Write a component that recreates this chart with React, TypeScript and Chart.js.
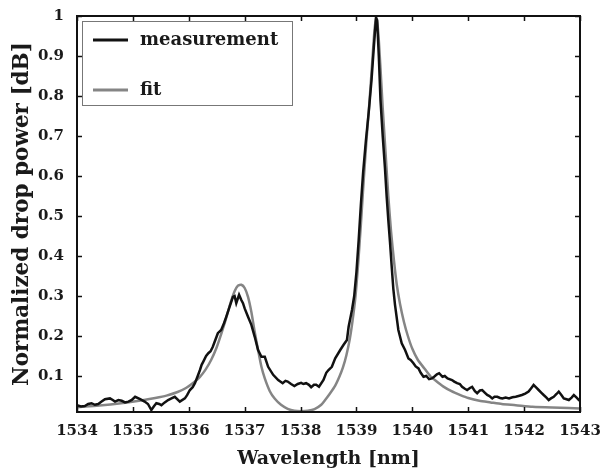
import React, { useEffect, useRef } from "react";
import { Chart, registerables } from "chart.js";

Chart.register(...registerables);

const measWl = [
  1534.0, 1534.07, 1534.14, 1534.2, 1534.26, 1534.32, 1534.38, 1534.44, 1534.5, 1534.59,
  1534.64, 1534.68, 1534.74, 1534.8, 1534.86, 1534.92, 1534.98, 1535.04, 1535.13, 1535.21,
  1535.27, 1535.33, 1535.38, 1535.42, 1535.47, 1535.51, 1535.57, 1535.63, 1535.69, 1535.75,
  1535.84, 1535.93, 1535.97, 1536.02, 1536.07, 1536.11, 1536.16, 1536.2, 1536.23, 1536.26,
  1536.31, 1536.35, 1536.39, 1536.43, 1536.48, 1536.52, 1536.58, 1536.63, 1536.67, 1536.73,
  1536.79, 1536.82, 1536.85, 1536.9, 1536.94, 1536.97, 1537.0, 1537.06, 1537.12, 1537.18,
  1537.24, 1537.3, 1537.36, 1537.42, 1537.51, 1537.6, 1537.68, 1537.73, 1537.77, 1537.83,
  1537.89, 1537.95, 1538.01, 1538.05, 1538.1, 1538.15, 1538.19, 1538.24, 1538.28, 1538.33,
  1538.41, 1538.46, 1538.5, 1538.56, 1538.62, 1538.71, 1538.77, 1538.83, 1538.86, 1538.92,
  1538.96, 1539.0, 1539.04, 1539.08, 1539.12, 1539.17, 1539.22, 1539.27, 1539.31, 1539.35,
  1539.37, 1539.4, 1539.43, 1539.47, 1539.51, 1539.54, 1539.57, 1539.6, 1539.63, 1539.66,
  1539.69, 1539.75, 1539.81, 1539.87, 1539.93, 1539.97, 1540.02, 1540.06, 1540.11, 1540.15,
  1540.2, 1540.25, 1540.3, 1540.35, 1540.39, 1540.44, 1540.48, 1540.54, 1540.58, 1540.63,
  1540.71, 1540.75, 1540.8, 1540.85, 1540.89, 1540.94, 1540.98, 1541.03, 1541.07, 1541.12,
  1541.16, 1541.21, 1541.25, 1541.3, 1541.34, 1541.38, 1541.43, 1541.47, 1541.52, 1541.57,
  1541.61, 1541.67, 1541.73, 1541.79, 1541.85, 1541.9, 1541.96, 1542.02, 1542.08, 1542.13,
  1542.17, 1542.21, 1542.26, 1542.31, 1542.35, 1542.4, 1542.44, 1542.48, 1542.53, 1542.58,
  1542.62, 1542.67, 1542.71, 1542.76, 1542.8, 1542.85, 1542.89, 1542.94, 1542.98, 1543.0,
];

const measVal = [
  0.027, 0.024, 0.025, 0.03, 0.032, 0.028, 0.03, 0.036, 0.042, 0.044,
  0.04, 0.036, 0.04, 0.038, 0.034, 0.036, 0.04, 0.048, 0.042, 0.036,
  0.03, 0.015, 0.025, 0.032, 0.03, 0.027, 0.034, 0.04, 0.044, 0.048,
  0.036, 0.044, 0.052, 0.065, 0.072, 0.082, 0.1, 0.115, 0.128, 0.136,
  0.15, 0.157, 0.162, 0.173, 0.192, 0.207, 0.215, 0.232, 0.248, 0.273,
  0.298, 0.3, 0.282, 0.303, 0.29, 0.282, 0.269, 0.248, 0.228, 0.198,
  0.165, 0.148, 0.148, 0.123, 0.103, 0.09, 0.082, 0.088, 0.086, 0.08,
  0.075, 0.08, 0.083, 0.08, 0.082, 0.078, 0.072, 0.078, 0.078, 0.073,
  0.09, 0.108, 0.115, 0.123, 0.144, 0.165, 0.178, 0.19, 0.223, 0.265,
  0.3, 0.36, 0.44, 0.53, 0.61, 0.69, 0.76, 0.84, 0.92, 0.995,
  0.99, 0.9, 0.79, 0.7, 0.62, 0.55, 0.49, 0.435, 0.375, 0.318,
  0.278, 0.215, 0.182, 0.165, 0.144, 0.14, 0.132, 0.124, 0.119, 0.108,
  0.098, 0.1, 0.092, 0.094, 0.098, 0.104, 0.107, 0.098, 0.1, 0.094,
  0.09, 0.086, 0.082, 0.08, 0.073, 0.068, 0.065, 0.07, 0.073, 0.062,
  0.057, 0.064, 0.065, 0.058, 0.0525, 0.05, 0.044, 0.048, 0.048, 0.045,
  0.044, 0.046, 0.044, 0.047, 0.048, 0.05, 0.0525, 0.056, 0.061, 0.07,
  0.0775, 0.072, 0.065, 0.058, 0.0525, 0.046, 0.04, 0.044, 0.048, 0.055,
  0.061, 0.052, 0.044, 0.042, 0.04, 0.046, 0.0525, 0.046, 0.04, 0.041,
];

const fitWl = [
  1534.0, 1534.3, 1534.6, 1534.9, 1535.2, 1535.4, 1535.6, 1535.8, 1535.95, 1536.1,
  1536.2, 1536.3, 1536.4, 1536.5, 1536.58, 1536.66, 1536.74, 1536.82, 1536.88, 1536.94,
  1537.0, 1537.06, 1537.12, 1537.18, 1537.24, 1537.3, 1537.36, 1537.45, 1537.54, 1537.65,
  1537.77, 1537.89, 1538.01, 1538.13, 1538.25, 1538.37, 1538.44, 1538.52, 1538.62, 1538.7,
  1538.76, 1538.82, 1538.88, 1538.93, 1538.98, 1539.03, 1539.08, 1539.13, 1539.18, 1539.23,
  1539.28, 1539.32, 1539.355, 1539.39, 1539.43, 1539.47, 1539.52, 1539.57, 1539.62, 1539.67,
  1539.72, 1539.78, 1539.85, 1539.92, 1540.0, 1540.1, 1540.22, 1540.32, 1540.42, 1540.55,
  1540.7, 1540.85, 1541.0, 1541.2, 1541.4, 1541.6, 1541.85, 1542.15, 1542.5, 1542.8, 1543.0,
];

const fitVal = [
  0.022, 0.025, 0.029, 0.034, 0.04, 0.045, 0.051, 0.06, 0.07, 0.085,
  0.098, 0.116, 0.14, 0.172, 0.205, 0.24, 0.28, 0.312, 0.326, 0.328,
  0.32, 0.298, 0.26, 0.21, 0.165, 0.123, 0.094, 0.062, 0.043, 0.028,
  0.018, 0.013, 0.012, 0.013, 0.017, 0.028, 0.04, 0.055, 0.076, 0.1,
  0.122, 0.152, 0.192, 0.238, 0.295, 0.38, 0.48, 0.59, 0.69, 0.78,
  0.88, 0.96, 1.0, 0.96, 0.87, 0.77, 0.66, 0.55, 0.46, 0.39,
  0.33, 0.28, 0.235, 0.2, 0.168, 0.14, 0.118, 0.1, 0.088, 0.074,
  0.062, 0.053, 0.045, 0.038, 0.034, 0.03, 0.027, 0.023, 0.021, 0.02, 0.019,
];

const xTicks = [1534, 1535, 1536, 1537, 1538, 1539, 1540, 1541, 1542, 1543];
const yTicks = [0.1, 0.2, 0.3, 0.4, 0.5, 0.6, 0.7, 0.8, 0.9, 1];

const seriesNames = ["measurement", "fit"];
const seriesColors = ["#111111", "#858585"];

const FONT = "'DejaVu Serif', serif";

const framePlugin = {
  id: "frameTicks",
  afterDraw(chart: any) {
    const { ctx, chartArea } = chart;
    const { left, right, top, bottom } = chartArea;
    const xs = chart.scales.x;
    const ys = chart.scales.y;
    const tl = 5;
    ctx.save();
    ctx.strokeStyle = "#111";
    ctx.lineWidth = 1.5;
    ctx.beginPath();
    for (const t of xTicks) {
      const px = Math.round(xs.getPixelForValue(t)) + 0.5;
      ctx.moveTo(px, bottom);
      ctx.lineTo(px, bottom - tl);
      ctx.moveTo(px, top);
      ctx.lineTo(px, top + tl);
    }
    for (const t of yTicks) {
      const py = Math.round(ys.getPixelForValue(t)) + 0.5;
      ctx.moveTo(left, py);
      ctx.lineTo(left + tl, py);
      ctx.moveTo(right, py);
      ctx.lineTo(right - tl, py);
    }
    ctx.stroke();
    ctx.lineWidth = 2;
    ctx.strokeRect(left, top, right - left, bottom - top);

    // legend
    const lx = left + 5;
    const ly = top + 5;
    const lw = 210;
    const lh = 84;
    ctx.fillStyle = "#ffffff";
    ctx.fillRect(lx, ly, lw, lh);
    ctx.strokeStyle = "#777";
    ctx.lineWidth = 1;
    ctx.strokeRect(lx + 0.5, ly + 0.5, lw, lh);
    const rowsY = [ly + 19, ly + 69];
    seriesNames.forEach((name, i) => {
      const ry = rowsY[i];
      ctx.strokeStyle = seriesColors[i];
      ctx.lineWidth = 3;
      ctx.beginPath();
      ctx.moveTo(lx + 11, ry);
      ctx.lineTo(lx + 46, ry);
      ctx.stroke();
      ctx.fillStyle = "#1a1a1a";
      ctx.font = `bold 18px ${FONT}`;
      ctx.textBaseline = "middle";
      ctx.textAlign = "left";
      ctx.fillText(name, lx + 58, ry);
    });
    ctx.restore();
  },
};

export default function App() {
  const ref = useRef<HTMLCanvasElement | null>(null);

  useEffect(() => {
    if (!ref.current) return;
    const chart = new Chart(ref.current, {
      type: "line",
      data: {
        datasets: [
          {
            label: seriesNames[0],
            data: measWl.map((x, i) => ({ x, y: measVal[i] })),
            borderColor: seriesColors[0],
            borderWidth: 2.5,
            pointRadius: 0,
            tension: 0,
          },
          {
            label: seriesNames[1],
            data: fitWl.map((x, i) => ({ x, y: fitVal[i] })),
            borderColor: seriesColors[1],
            borderWidth: 2.5,
            pointRadius: 0,
            tension: 0.2,
          },
        ],
      },
      plugins: [framePlugin],
      options: {
        responsive: false,
        animation: false,
        events: [],
        layout: { padding: { top: 16, right: 20, left: 0, bottom: 0 } },
        plugins: {
          legend: { display: false },
          tooltip: { enabled: false },
        },
        scales: {
          x: {
            type: "linear",
            min: 1534,
            max: 1543,
            afterBuildTicks: (s: any) => {
              s.ticks = xTicks.map((v) => ({ value: v }));
            },
            afterFit: (s: any) => {
              s.height = 61;
              s.paddingLeft = 0;
              s.paddingRight = 0;
            },
            grid: { display: false },
            border: { display: false },
            ticks: {
              color: "#1a1a1a",
              font: { family: FONT, size: 15, weight: "bold" },
              padding: 2,
              maxRotation: 0,
              callback: (v: any) => String(v),
            },
            title: {
              display: true,
              text: "Wavelength [nm]",
              color: "#1a1a1a",
              font: { family: FONT, size: 19, weight: "bold" },
              padding: { top: 0, bottom: 3 },
            },
          },
          y: {
            type: "linear",
            min: 0.01,
            max: 1,
            afterBuildTicks: (s: any) => {
              s.ticks = yTicks.map((v) => ({ value: v }));
            },
            afterFit: (s: any) => {
              s.width = 77;
              s.paddingTop = 0;
              s.paddingBottom = 0;
            },
            grid: { display: false },
            border: { display: false },
            ticks: {
              color: "#1a1a1a",
              font: { family: FONT, size: 15, weight: "bold" },
              padding: 5,
              callback: (v: any) => String(Math.round(v * 10) / 10),
            },
            title: {
              display: true,
              text: "Normalized drop power [dB]",
              color: "#1a1a1a",
              font: { family: FONT, size: 21.5, weight: "bold" },
              padding: { top: 10, bottom: 0 },
            },
          },
        },
      },
    } as any);
    return () => chart.destroy();
  }, []);

  return (
    <div style={{ position: "absolute", left: 0, top: 0, width: 600, height: 473, background: "#fff" }}>
      <canvas ref={ref} width={600} height={473} style={{ width: 600, height: 473 }} />
    </div>
  );
}
